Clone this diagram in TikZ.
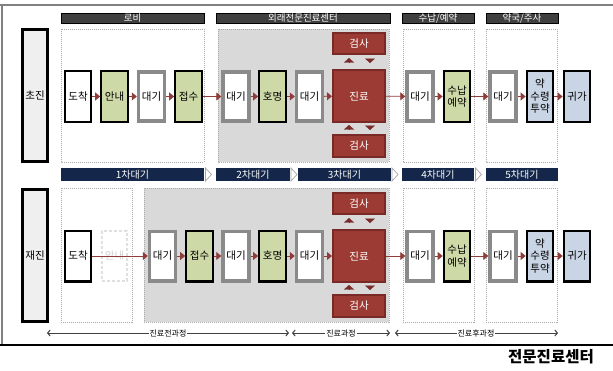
\documentclass[tikz,border=0pt]{standalone}
\usepackage{fontspec}
\setmainfont{Noto Sans CJK KR}
\usetikzlibrary{arrows.meta}
\definecolor{hdr}{HTML}{3F3F3F}
\definecolor{navy}{HTML}{14274A}
\definecolor{grn}{HTML}{CDDAA8}
\definecolor{blu}{HTML}{C9D5E5}
\definecolor{redf}{HTML}{9B3B34}
\definecolor{redb}{HTML}{7A2A26}
\definecolor{waitg}{HTML}{8A8A8A}
\definecolor{zone}{HTML}{D9D9D9}
\definecolor{flowc}{HTML}{8E3D3A}
\definecolor{trig}{HTML}{7A2A28}
\definecolor{lab}{HTML}{EFEFEF}
\begin{document}
\begin{tikzpicture}[x=1pt,y=-1pt,
  txt/.style={font=\fontsize{10.5}{12.5}\selectfont, align=center, inner sep=0pt},
  blk/.style={txt, draw=black, line width=2.2pt, minimum width=26.5pt, minimum height=50.8pt},
  wn/.style={blk, fill=white},
  gn/.style={blk, fill=grn},
  bn/.style={blk, fill=blu},
  wt/.style={txt, draw=waitg, line width=3.6pt, fill=white, minimum width=25.8pt, minimum height=49.4pt},
  ghost/.style={txt, draw=gray!25, line width=2.2pt, dash pattern=on 3pt off 2pt, text=gray!35, minimum width=25pt, minimum height=50pt},
  rd/.style={txt, fill=redf, draw=redb, line width=2pt, text=white, minimum width=52pt},
  rowlab/.style={txt, font=\fontsize{10.5}{12}\selectfont, fill=lab, draw=black, line width=2.6pt, minimum width=25.4pt, minimum height=132.4pt},
  hdrbar/.style={fill=hdr, draw=black, line width=0.5pt, text=white, font=\fontsize{9.5}{9.5}\selectfont, inner sep=0pt, minimum height=10pt},
  navbar/.style={fill=navy, text=white, font=\fontsize{10}{10}\selectfont, inner sep=0pt, minimum height=13pt},
  region/.style={draw=gray!65, line width=0.7pt, dash pattern=on 1pt off 1pt},
  flow/.style={draw=flowc, line width=0.8pt, -{Triangle[length=5pt,width=8pt]}},
  vtri/.style={draw=trig, fill=trig, line width=0.1pt, -{Triangle[length=4.5pt,width=10pt]}},
  chev/.style={draw=gray!70, fill=white, line width=0.7pt},
  dim/.style={draw=gray!50!black, line width=1pt, {Straight Barb[length=2.5pt,width=6pt]}-{Straight Barb[length=2.5pt,width=6pt]}},
  dimlab/.style={fill=white, inner sep=1pt, font=\fontsize{8}{8}\selectfont}
]
\useasboundingbox (0,0) rectangle (613,370);
\fill[white] (0,0) rectangle (613,370);
% frame
\draw[gray, line width=1.5pt] (0,5) -- (613,5);
\draw[gray, line width=1.5pt] (2,5) -- (2,345);
\draw[black, line width=1.2pt] (0,345) -- (613,345);

% regions top
\draw[region] (61,29) rectangle (204,162);
\draw[region, fill=zone] (218,29) rectangle (389,162);
\draw[region] (403,29) rectangle (474,162);
\draw[region] (486,29) rectangle (557,162);
% regions bottom
\draw[region] (61,188) rectangle (132,322);
\draw[region, fill=zone] (144,188) rectangle (389,322);
\draw[region] (403,188) rectangle (474,322);
\draw[region] (486,188) rectangle (557,322);

% headers
\node[hdrbar, minimum width=143pt] (h-lobby) at (132.5,18) {로비};
\node[hdrbar, minimum width=174pt] (h-center) at (303,18) {외래전문진료센터};
\node[hdrbar, minimum width=72pt] (h-pay) at (438,18) {수납/예약};
\node[hdrbar, minimum width=72pt] (h-ph) at (522,18) {약국/주사};

% navy bar
\node[navbar, minimum width=143pt] (w1) at (132.5,174.5) {1차대기};
\node[navbar, minimum width=74pt] (w2) at (253,174.5) {2차대기};
\node[navbar, minimum width=93pt] (w3) at (344.5,174.5) {3차대기};
\node[navbar, minimum width=72pt] (w4) at (438,174.5) {4차대기};
\node[navbar, minimum width=72pt] (w5) at (522,174.5) {5차대기};
\draw[chev] (205.5,168) -- (211.5,174.5) -- (205.5,181) -- cycle;
\draw[chev] (291,168) -- (297,174.5) -- (291,181) -- cycle;
\draw[chev] (392,168) -- (398,174.5) -- (392,181) -- cycle;
\draw[chev] (475.5,168) -- (481.5,174.5) -- (475.5,181) -- cycle;

% row labels
\node[rowlab] (r1) at (35,95.5) {초진};
\node[rowlab] (r2) at (35,255.5) {재진};

% top row
\node[wn] (a1) at (78,96.5) {도착};
\node[gn] (b1) at (114.5,96.5) {안내};
\node[wt] (c1) at (151.5,96.5) {대기};
\node[gn] (d1) at (188.5,96.5) {접수};
\node[wt] (e1) at (236,96.5) {대기};
\node[gn] (f1) at (272.5,96.5) {호명};
\node[wt] (g1) at (309.5,96.5) {대기};
\node[rd, minimum height=52pt] (h1) at (359,96) {진료};
\node[rd, minimum height=21pt] (k1) at (359,43.5) {검사};
\node[rd, minimum height=22pt] (m1) at (359,146) {검사};
\node[wt] (i1) at (420,96.5) {대기};
\node[gn] (j1) at (457,96.5) {수납\\예약};
\node[wt] (n1) at (503,96.5) {대기};
\node[bn] (o1) at (540,96.5) {약\\수령\\투약};
\node[bn] (p1) at (577,96.5) {귀가};

\foreach \s/\t in {a1/b1,b1/c1,c1/d1,d1/e1,e1/f1,f1/g1,g1/h1,h1/i1,i1/j1,j1/n1,n1/o1,o1/p1}
  \draw[flow] (\s) -- (\t);
\draw[vtri, shorten <=6pt, shorten >=3pt] ([xshift=-10pt]h1.north) -- ([xshift=-10pt]k1.south);
\draw[vtri, shorten <=3.5pt, shorten >=6pt] ([xshift=11pt]k1.south) -- ([xshift=11pt]h1.north);
\draw[vtri, shorten <=4pt, shorten >=2pt] ([xshift=-10pt]m1.north) -- ([xshift=-10pt]h1.south);
\draw[vtri, shorten <=2.5pt, shorten >=4pt] ([xshift=11pt]h1.south) -- ([xshift=11pt]m1.north);

% bottom row
\node[wn] (a2) at (78,256) {도착};
\node[ghost] (b2) at (114.5,256) {안내};
\node[wt] (c2) at (162.5,256) {대기};
\node[gn] (d2) at (199.5,256) {접수};
\node[wt] (e2) at (236,256) {대기};
\node[gn] (f2) at (272.5,256) {호명};
\node[wt] (g2) at (309.5,256) {대기};
\node[rd, minimum height=52pt] (h2) at (359,256) {진료};
\node[rd, minimum height=21pt] (k2) at (359,203.5) {검사};
\node[rd, minimum height=22pt] (m2) at (359,306) {검사};
\node[wt] (i2) at (420,256) {대기};
\node[gn] (j2) at (457,256) {수납\\예약};
\node[wt] (n2) at (503,256) {대기};
\node[bn] (o2) at (540,256) {약\\수령\\투약};
\node[bn] (p2) at (577,256) {귀가};

\foreach \s/\t in {a2/c2,c2/d2,d2/e2,e2/f2,f2/g2,g2/h2,h2/i2,i2/j2,j2/n2,n2/o2,o2/p2}
  \draw[flow] (\s) -- (\t);
\draw[vtri, shorten <=6pt, shorten >=3pt] ([xshift=-10pt]h2.north) -- ([xshift=-10pt]k2.south);
\draw[vtri, shorten <=3.5pt, shorten >=6pt] ([xshift=11pt]k2.south) -- ([xshift=11pt]h2.north);
\draw[vtri, shorten <=4pt, shorten >=2pt] ([xshift=-10pt]m2.north) -- ([xshift=-10pt]h2.south);
\draw[vtri, shorten <=2.5pt, shorten >=4pt] ([xshift=11pt]h2.south) -- ([xshift=11pt]m2.north);

% dimension lines
\coordinate (d0) at (47,333);
\coordinate (d1) at (289,333);
\coordinate (d2) at (292,333);
\coordinate (d3) at (390,333);
\coordinate (d4) at (395,333);
\coordinate (d5) at (558,333);
\draw[dim] (d0) -- (d1);
\draw[dim] (d2) -- (d3);
\draw[dim] (d4) -- (d5);
\node[dimlab] (l1) at (168,333) {진료전과정};
\node[dimlab] (l2) at (341,333) {진료과정};
\node[dimlab] (l3) at (476,333) {진료후과정};

% title
\node[font=\bfseries\fontsize{15.5}{15.5}\selectfont, inner sep=0pt] (title) at (551,357) {전문진료센터};
\end{tikzpicture}
\end{document}
